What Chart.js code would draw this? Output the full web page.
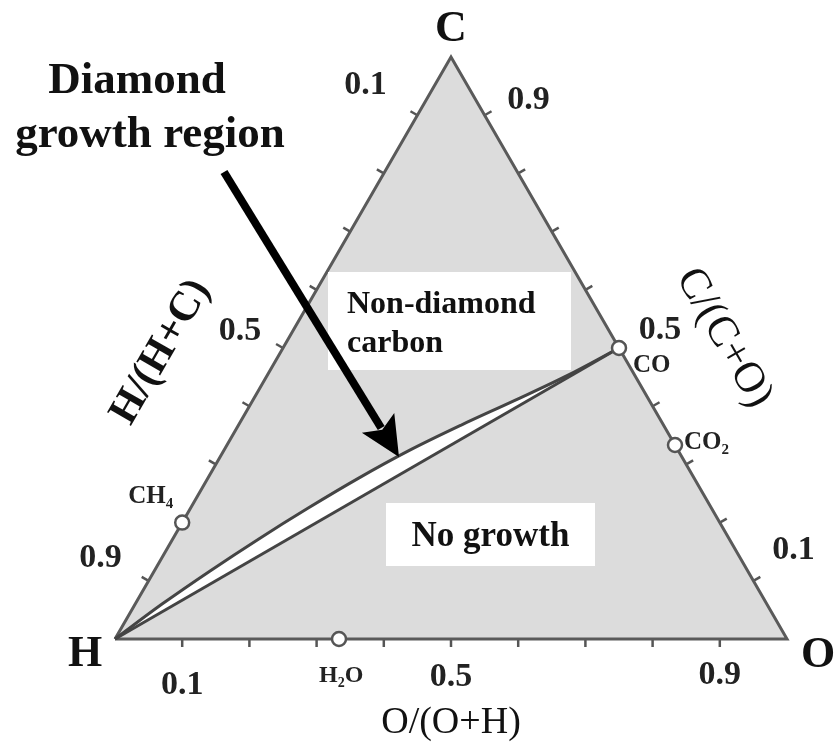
<!DOCTYPE html>
<html>
<head>
<meta charset="utf-8">
<title>C–H–O diagram</title>
<script src="https://cdn.jsdelivr.net/npm/chart.js@4.4.1/dist/chart.umd.min.js"></script>
<style>
  html, body { margin: 0; padding: 0; background: #ffffff; }
  #wrap { width: 834px; height: 746px; }
</style>
</head>
<body>
<div id="wrap"><canvas id="chart" width="834" height="746"></canvas></div>
<script>
// ---- Composition data (atomic fractions C, H, O) ----
const cornerNames = ['C', 'H', 'O'];
const cornerC = [1, 0, 0];
const cornerH = [0, 1, 0];
const cornerO = [0, 0, 1];

// Edge ticks, as the ratio read along each edge
const tickValues = [0.1, 0.2, 0.3, 0.4, 0.5, 0.6, 0.7, 0.8, 0.9];
const tickLabelValues = [0.1, 0.5, 0.9];
const tickLabels = ['0.1', '0.5', '0.9'];

// Gas species on the edges
const speciesNames = ['CH', 'H', 'CO', 'CO'];
const speciesSubs  = ['4', '2', '', '2'];
const speciesTails = ['', 'O', '', ''];
const speciesC = [0.2, 0, 0.5, 1 / 3];
const speciesH = [0.8, 2 / 3, 0, 0];
const speciesO = [0, 1 / 3, 0.5, 2 / 3];

// Diamond domain: lower boundary is the H–CO tie line
const lowerC = [0, 0.5];
const lowerO = [0, 0.5];
// upper boundary (towards non-diamond carbon)
const upperC = [0, 0.060, 0.117, 0.172, 0.225, 0.276, 0.324, 0.368, 0.410, 0.453, 0.5];
const upperO = [0, 0.040, 0.083, 0.128, 0.175, 0.224, 0.276, 0.332, 0.390, 0.447, 0.5];

// ---- ternary -> cartesian ----
const S3 = Math.sqrt(3) / 2;
function tern(c, h, o) { return { x: o + c / 2, y: c * S3 }; }
function edgeH(v) { return tern(1 - v, v, 0); }   // H/(H+C) along C–H
function edgeO(v) { return tern(0, 1 - v, v); }   // O/(O+H) along H–O
function edgeC(v) { return tern(v, 0, 1 - v); }   // C/(C+O) along O–C

const corners = cornerNames.map((n, i) => tern(cornerC[i], cornerH[i], cornerO[i]));
const outline = [corners[1], corners[2], corners[0], corners[1]];
const upperPts = upperC.map((c, i) => tern(c, 1 - c - upperO[i], upperO[i]));
const lowerPts = lowerC.map((c, i) => tern(c, 1 - c - lowerO[i], lowerO[i]));
const speciesPts = speciesNames.map((n, i) => tern(speciesC[i], speciesH[i], speciesO[i]));

const SERIF = '"Liberation Serif", "Times New Roman", serif';

function px(chart, p) {
  return { x: chart.scales.x.getPixelForValue(p.x), y: chart.scales.y.getPixelForValue(p.y) };
}

function drawText(ctx, str, x, y, font, opts = {}) {
  ctx.save();
  ctx.translate(x, y);
  if (opts.rot) ctx.rotate(opts.rot * Math.PI / 180);
  ctx.font = font;
  ctx.fillStyle = opts.color || '#111';
  ctx.textAlign = opts.align || 'center';
  ctx.textBaseline = opts.baseline || 'middle';
  ctx.fillText(str, 0, 0);
  ctx.restore();
}

// Formula with a subscript, drawn left-aligned from x on baseline y
function drawFormula(ctx, main, sub, tail, x, y, size) {
  ctx.save();
  ctx.fillStyle = '#222';
  ctx.textBaseline = 'alphabetic';
  ctx.textAlign = 'left';
  ctx.font = `bold ${size}px ${SERIF}`;
  ctx.fillText(main, x, y);
  let w = ctx.measureText(main).width;
  if (sub) {
    ctx.font = `bold ${Math.round(size * 0.6)}px ${SERIF}`;
    ctx.fillText(sub, x + w, y + size * 0.2);
    w += ctx.measureText(sub).width;
  }
  if (tail) {
    ctx.font = `bold ${size}px ${SERIF}`;
    ctx.fillText(tail, x + w, y);
  }
  ctx.restore();
}

// Triangle background, the diamond lens and the edge ticks
const backgroundPlugin = {
  id: 'ternaryBackground',
  beforeDatasetsDraw(chart) {
    const ctx = chart.ctx;
    ctx.save();
    ctx.beginPath();
    outline.forEach((p, i) => {
      const q = px(chart, p);
      if (i === 0) ctx.moveTo(q.x, q.y); else ctx.lineTo(q.x, q.y);
    });
    ctx.closePath();
    ctx.fillStyle = '#dcdcdc';
    ctx.fill();

    ctx.beginPath();
    upperPts.forEach((p, i) => {
      const q = px(chart, p);
      if (i === 0) ctx.moveTo(q.x, q.y); else ctx.lineTo(q.x, q.y);
    });
    lowerPts.slice().reverse().forEach(p => {
      const q = px(chart, p);
      ctx.lineTo(q.x, q.y);
    });
    ctx.closePath();
    ctx.fillStyle = '#ffffff';
    ctx.fill();

    // tick marks pointing out of the triangle
    ctx.strokeStyle = '#555';
    ctx.lineWidth = 2.5;
    ctx.lineCap = 'butt';
    const tickLen = 8;
    const dirs = [
      { fn: edgeO, dx: 0, dy: 1 },
      { fn: edgeH, dx: -Math.cos(Math.PI / 6), dy: -0.5 },
      { fn: edgeC, dx: Math.cos(Math.PI / 6), dy: -0.5 }
    ];
    dirs.forEach(d => {
      tickValues.forEach(v => {
        const q = px(chart, d.fn(v));
        ctx.beginPath();
        ctx.moveTo(q.x, q.y);
        ctx.lineTo(q.x + d.dx * tickLen, q.y + d.dy * tickLen);
        ctx.stroke();
      });
    });
    ctx.restore();
  }
};

// Labels, boxes and the pointer arrow
const annotationPlugin = {
  id: 'ternaryAnnotations',
  afterDatasetsDraw(chart) {
    const ctx = chart.ctx;
    const cfg = chart.options.plugins.ternaryAnnotations;

    // tick labels on the three edges
    const tickFont = `bold 34px ${SERIF}`;
    const off = cfg.tickLabelOffsets;
    tickLabelValues.forEach((v, i) => {
      let q = px(chart, edgeO(v));
      drawText(ctx, tickLabels[i], q.x + off.bottom[i][0], q.y + off.bottom[i][1], tickFont, { color: '#222' });
      q = px(chart, edgeH(v));
      drawText(ctx, tickLabels[i], q.x + off.left[i][0], q.y + off.left[i][1], tickFont, { color: '#222' });
      q = px(chart, edgeC(v));
      drawText(ctx, tickLabels[i], q.x + off.right[i][0], q.y + off.right[i][1], tickFont, { color: '#222' });
    });

    // species labels
    speciesNames.forEach((n, i) => {
      const q = px(chart, speciesPts[i]);
      const o = cfg.speciesOffsets[i];
      drawFormula(ctx, n, speciesSubs[i], speciesTails[i], q.x + o[0], q.y + o[1], o[2]);
    });

    // corner letters
    corners.forEach((c, i) => {
      const q = px(chart, c);
      const o = cfg.cornerOffsets[i];
      drawText(ctx, cornerNames[i], q.x + o[0], q.y + o[1], `bold 44px ${SERIF}`);
    });

    // axis titles
    const bottomMid = px(chart, edgeO(0.5));
    drawText(ctx, 'O/(O+H)', bottomMid.x, bottomMid.y + 84, `38px ${SERIF}`);
    const leftMid = px(chart, edgeH(0.5));
    drawText(ctx, 'H/(H+C)', leftMid.x - 122, leftMid.y + 4, `bold 42px ${SERIF}`, { rot: -60 });
    const rightMid = px(chart, edgeC(0.5));
    drawText(ctx, 'C/(C+O)', rightMid.x + 105, rightMid.y - 10, `43px ${SERIF}`, { rot: 60 });

    // region labels on white boxes
    cfg.boxes.forEach(b => {
      const a = px(chart, { x: b.x0, y: b.y0 });
      const z = px(chart, { x: b.x1, y: b.y1 });
      ctx.fillStyle = '#ffffff';
      ctx.fillRect(a.x, a.y, z.x - a.x, z.y - a.y);
      b.lines.forEach((t, k) => {
        drawText(ctx, t, b.align === 'left' ? a.x + b.padX : (a.x + z.x) / 2,
                 a.y + b.firstBaseline + k * b.lineStep, `bold ${b.size}px ${SERIF}`,
                 { align: b.align, baseline: 'alphabetic', color: '#111' });
      });
    });

    // callout text
    const call = cfg.callout;
    const cq = px(chart, { x: call.x, y: call.y });
    call.lines.forEach((t, k) => {
      drawText(ctx, t, cq.x + call.dx[k], cq.y + k * call.lineStep, `bold ${call.size}px ${SERIF}`,
               { baseline: 'alphabetic', color: '#111' });
    });

    // arrow
    const ar = cfg.arrow;
    const s = px(chart, ar.from), e = px(chart, ar.to);
    const ang = Math.atan2(e.y - s.y, e.x - s.x);
    const headLen = 40, headHalf = 19;
    const bx = e.x - headLen * Math.cos(ang), by = e.y - headLen * Math.sin(ang);
    ctx.save();
    ctx.strokeStyle = '#000';
    ctx.fillStyle = '#000';
    ctx.lineWidth = 8;
    ctx.beginPath();
    ctx.moveTo(s.x, s.y);
    ctx.lineTo(bx + 6 * Math.cos(ang), by + 6 * Math.sin(ang));
    ctx.stroke();
    ctx.beginPath();
    ctx.moveTo(e.x, e.y);
    ctx.lineTo(bx - headHalf * Math.sin(ang), by + headHalf * Math.cos(ang));
    ctx.lineTo(bx + 8 * Math.cos(ang), by + 8 * Math.sin(ang));
    ctx.lineTo(bx + headHalf * Math.sin(ang), by - headHalf * Math.cos(ang));
    ctx.closePath();
    ctx.fill();
    ctx.restore();
  }
};

const SIDE = 672;
new Chart(document.getElementById('chart'), {
  type: 'scatter',
  data: {
    datasets: [
      { label: 'outline', data: outline, showLine: true, borderColor: '#5a5a5a', borderWidth: 3,
        pointRadius: 0, fill: false, tension: 0, order: 3 },
      { label: 'upper', data: upperPts, showLine: true, borderColor: '#444', borderWidth: 3,
        pointRadius: 0, fill: false, cubicInterpolationMode: 'monotone', order: 2 },
      { label: 'lower', data: lowerPts, showLine: true, borderColor: '#444', borderWidth: 3,
        pointRadius: 0, fill: false, order: 1 },
      { label: 'species', data: speciesPts, showLine: false, pointRadius: 7, pointHoverRadius: 7,
        pointBackgroundColor: '#ffffff', pointBorderColor: '#555', pointBorderWidth: 2.5, order: 0 }
    ]
  },
  options: {
    responsive: false,
    animation: false,
    events: [],
    layout: { padding: 0, autoPadding: false },
    scales: {
      x: { type: 'linear', display: false, min: -115 / SIDE, max: 719 / SIDE },
      y: { type: 'linear', display: false, min: -107 / SIDE, max: 639 / SIDE }
    },
    plugins: {
      legend: { display: false },
      tooltip: { enabled: false },
      ternaryAnnotations: {
        tickLabelOffsets: {
          bottom: [[0, 46], [0, 38], [0, 36]],
          left: [[-52, -30], [-43, -17], [-48, -23]],
          right: [[40, -31], [41, -18], [44, -15]]
        },
        speciesOffsets: [[-54, -20, 25], [-20, 43, 24], [14, 24, 25], [9, 4, 25]],
        cornerOffsets: [[0, -27], [-30, 16], [31, 17]],
        boxes: [
          { x0: 213 / SIDE, y0: 367 / SIDE, x1: 456 / SIDE, y1: 269 / SIDE,
            lines: ['Non-diamond', 'carbon'], size: 32, align: 'left', padX: 19,
            firstBaseline: 41, lineStep: 39 },
          { x0: 271 / SIDE, y0: 136 / SIDE, x1: 480 / SIDE, y1: 73 / SIDE,
            lines: ['No growth'], size: 35, align: 'center', padX: 0,
            firstBaseline: 43, lineStep: 0 }
        ],
        callout: { x: 22 / SIDE, y: 546 / SIDE, lines: ['Diamond', 'growth region'],
                   dx: [0, 13], size: 45, lineStep: 54 },
        arrow: { from: { x: 109 / SIDE, y: 467 / SIDE }, to: { x: 284 / SIDE, y: 182 / SIDE } }
      }
    }
  },
  plugins: [backgroundPlugin, annotationPlugin]
});
</script>
</body>
</html>
